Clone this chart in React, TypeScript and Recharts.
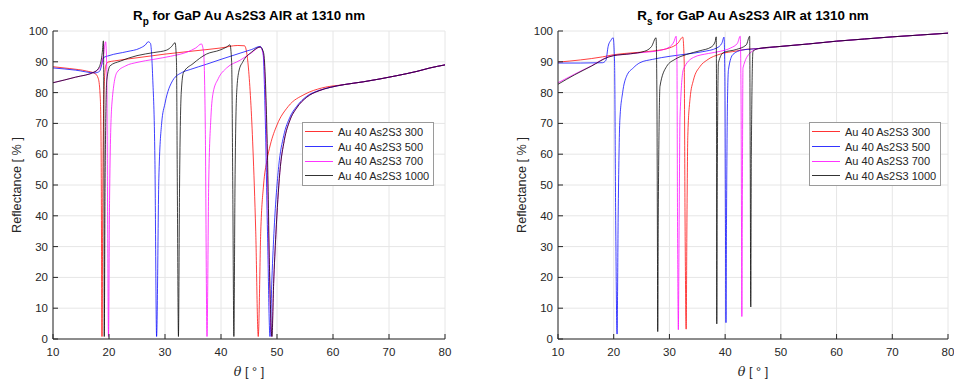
import { LineChart, Line, XAxis, YAxis, CartesianGrid, Legend } from 'recharts';

const thetaTicks = [10, 20, 30, 40, 50, 60, 70, 80];
const reflTicks = [0, 10, 20, 30, 40, 50, 60, 70, 80, 90, 100];
const seriesNames = ['Au 40 As2S3 300', 'Au 40 As2S3 500', 'Au 40 As2S3 700', 'Au 40 As2S3 1000'];
const seriesColors = ['#ff0000', '#0000ff', '#ff00ff', '#000000'];

// Rp curves: [theta, reflectance %]
const rpFar = [[62, 82.6], [65.4, 83.5], [71.4, 85.5], [75, 86.9], [77.3, 88], [80, 89]];

const rp300 = [
  [10, 88.4], [13, 87.8], [16, 87], [17.5, 86.2], [18.1, 84.5], [18.45, 78], [18.6, 60], [18.75, 0.8],
  [18.9, 50], [19.1, 80], [19.4, 88.5], [19.8, 89.9], [21, 90.3], [25, 91.3], [30, 92.5], [35, 93.5],
  [40, 94.5], [43, 95.3], [44.2, 95.2], [44.9, 88], [45.7, 62], [46.2, 35], [46.65, 0.8], [47.1, 35],
  [47.6, 50], [48.2, 58], [48.8, 63], [50, 69.5], [52, 75.5], [55, 79.5], [58, 81.5], ...rpFar,
];
const rp500 = [
  [10, 88], [14, 87.3], [17.5, 86.4], [18.3, 86.9], [18.7, 89], [19, 91.3], [20, 92], [23.2, 93.3],
  [25.5, 94.4], [26.5, 95.5], [27, 96.5], [27.4, 96], [27.8, 85], [28.2, 58], [28.5, 0.8], [28.9, 52],
  [29.4, 70], [30, 76.5], [31.4, 84], [33, 86.5], [34.5, 87.5], [37.4, 89.2], [40, 90.8], [43.4, 92.8],
  [45.5, 94], [47, 95], [47.5, 93], [47.9, 72], [48.3, 35], [48.75, 0.8], [49.1, 20], [49.5, 36],
  [50.3, 56], [51.2, 66], [52.3, 72], [53.5, 75.5], [55.3, 78.8], [57.5, 80.7], [59.5, 81.7], ...rpFar,
];
const rp700 = [
  [10, 83.2], [14, 85], [17.5, 86.8], [18.5, 88.5], [19, 92], [19.4, 96.5], [19.6, 88], [19.75, 40],
  [19.9, 0.8], [20.1, 45], [20.5, 76], [21.4, 86.5], [23, 88.7], [25, 89.8], [28, 90.8], [31, 91.8],
  [34, 93.2], [35.5, 94.5], [36.5, 95.8], [36.9, 93], [37.2, 68], [37.5, 0.8], [37.8, 50], [38.2, 72],
  [38.6, 80], [39.5, 84.5], [41, 88], [43.4, 90.5], [45.5, 93], [47, 94.8], [47.6, 92], [48.2, 62],
  [48.6, 25], [49.05, 0.8], [49.4, 18], [49.8, 34], [50.5, 54], [51.3, 64.5], [52.3, 71], [53.5, 75],
  [55.3, 78.5], [57.5, 80.6], [59.5, 81.7], ...rpFar,
];
const rp1000 = [
  [10, 83.2], [14, 85], [17.5, 86.8], [18.3, 88.5], [18.8, 93], [19, 96.8], [19.1, 60], [19.15, 0.8],
  [19.3, 50], [19.6, 84], [20.2, 88.7], [22, 90.2], [25, 92], [28, 93], [30.3, 93.8], [31.2, 95],
  [31.8, 96.2], [32.05, 90], [32.2, 50], [32.4, 0.8], [32.6, 50], [32.9, 80], [33.3, 86.5], [35, 89.4],
  [37.4, 92.5], [39.8, 93.8], [41, 94.8], [41.6, 95.5], [41.9, 90], [42.1, 50], [42.3, 0.8], [42.5, 50],
  [42.8, 80], [43.2, 87], [43.9, 90], [45.5, 93.2], [47, 94.8], [47.6, 93], [48.3, 60], [48.7, 20],
  [49.1, 0.8], [49.4, 18], [49.8, 34], [50.5, 54], [51.3, 64.5], [52.3, 71], [53.5, 75], [55.3, 78.5],
  [57.5, 80.6], [59.5, 81.7], ...rpFar,
];

// Rs curves
const rsFar = [[46, 94.3], [50, 95], [55, 95.8], [60, 96.7], [65, 97.4], [70, 98.1], [75, 98.7], [80, 99.3]];

const rs300 = [
  [10, 89.9], [14, 90.6], [18, 91.6], [20, 92.3], [24, 93], [27, 93.5], [30, 94.5], [31.5, 96],
  [32.4, 98], [32.65, 90], [32.8, 40], [33, 3.2], [33.15, 40], [33.3, 66], [33.7, 78], [34.3, 84],
  [35.5, 88.5], [36.7, 90.5], [39.1, 92.5], [42, 93.5], [44, 94.1], ...rsFar,
];
const rs500 = [
  [10, 89.6], [14, 89.6], [18, 89.7], [18.6, 90.5], [19, 95], [19.5, 97], [19.9, 97.8], [20.15, 90],
  [20.35, 40], [20.6, 1.6], [20.8, 40], [21.1, 71], [21.6, 80], [22.3, 85.3], [23.5, 88], [24.7, 89.7],
  [27, 90.8], [30.1, 91.8], [33, 92.5], [36, 93.3], [38.5, 94.5], [39.4, 96], [39.8, 98], [39.95, 85],
  [40.05, 40], [40.15, 5.3], [40.25, 40], [40.4, 75], [40.6, 87.5], [41.4, 92.4], [43, 93.8], [44.5, 94.1],
  ...rsFar,
];
const rs700 = [
  [10, 83.2], [13, 86], [16, 88.7], [19.3, 91.8], [22, 92.4], [25, 93], [28, 93.6], [30, 94.8],
  [30.8, 96.5], [31.2, 98.3], [31.35, 90], [31.45, 40], [31.6, 3], [31.75, 40], [31.9, 72], [32.5, 87.5],
  [34.3, 91.4], [37, 92.7], [39.1, 93.4], [41, 94.5], [42.2, 96], [42.7, 98.3], [42.85, 80], [42.95, 30],
  [43, 7.3], [43.08, 40], [43.2, 88], [44.5, 92.9], ...rsFar,
];
const rs1000 = [
  [10, 82.7], [13, 85.8], [16, 88.6], [19, 91.5], [20, 92], [23, 92.6], [25.5, 93.4], [26.8, 95],
  [27.6, 97.8], [27.75, 80], [27.85, 30], [27.9, 2.4], [28, 40], [28.15, 70], [28.3, 82], [29.5, 88.5],
  [31, 90.8], [33.1, 92.4], [35.5, 93.6], [37.5, 94.8], [38.2, 96.5], [38.4, 98.1], [38.45, 80], [38.5, 4.9],
  [38.58, 50], [38.8, 89.7], [39.7, 93], [42, 94], [43.8, 95.5], [44.4, 98.3], [44.5, 60], [44.6, 10.4],
  [44.7, 60], [45, 93.4], ...rsFar,
];

const toPts = (arr: number[][]) => arr.map(([t, r]) => ({ t, r }));

const FONT = '"Liberation Sans", Arial, Helvetica, sans-serif';
const AX = '#262626';

const LegendBox = () => (
  <div
    style={{
      border: '1px solid #9a9a9a',
      background: '#fff',
      padding: '1.5px 4px 1.7px 2px',
      fontFamily: FONT,
      fontSize: 11,
      color: AX,
      whiteSpace: 'nowrap',
    }}
  >
    {seriesNames.map((n, i) => (
      <div key={n} style={{ display: 'flex', alignItems: 'center', height: 14.7 }}>
        <svg width={28} height={3} style={{ marginRight: 5 }}>
          <line x1={0} y1={1.5} x2={28} y2={1.5} stroke={seriesColors[i]} strokeWidth={0.8} />
        </svg>
        {n}
      </div>
    ))}
  </div>
);

interface PanelProps {
  sub: string;
  series: number[][][];
  marginLeft: number;
  marginRight: number;
  legendLeft: number;
}

const Panel = ({ sub, series, marginLeft, marginRight, legendLeft }: PanelProps) => {
  const plotLeft = marginLeft + 40;
  const plotWidth = 477 - plotLeft - marginRight;
  const xLabel = (props: any) => {
    const vb = props.viewBox;
    return (
      <text x={vb.x + vb.width / 2} y={vb.y + 37} textAnchor="middle" fontFamily={FONT} fontSize={12.7} fill={AX}>
        <tspan fontStyle="italic" fontFamily='"DejaVu Serif", serif'>θ</tspan>
        <tspan> [ ° ]</tspan>
      </text>
    );
  };
  const yLabel = (props: any) => {
    const vb = props.viewBox;
    const cx = vb.x + 4;
    const cy = vb.y + vb.height / 2;
    return (
      <text x={cx} y={cy} textAnchor="middle" dominantBaseline="central" transform={`rotate(-90, ${cx}, ${cy})`} fontFamily={FONT} fontSize={12.7} fill={AX}>
        Reflectance [ % ]
      </text>
    );
  };
  const tickStyle = { fontFamily: FONT, fontSize: 11.5, fill: AX };
  return (
    <div style={{ position: 'relative', width: 477, height: 381 }}>
      <LineChart width={477} height={381} margin={{ top: 31, right: marginRight, bottom: 12, left: marginLeft }}>
        <CartesianGrid stroke="#e6e6e6" strokeWidth={1} />
        <XAxis
          dataKey="t"
          type="number"
          domain={[10, 80]}
          ticks={thetaTicks}
          allowDataOverflow
          height={30}
          stroke={AX}
          tick={tickStyle}
          tickSize={-5}
          tickMargin={14}
          label={xLabel}
        />
        <XAxis
          xAxisId="top"
          orientation="top"
          type="number"
          domain={[10, 80]}
          ticks={thetaTicks}
          height={0}
          stroke={AX}
          tick={false}
          tickSize={-5}
        />
        <YAxis
          type="number"
          domain={[0, 100]}
          ticks={reflTicks}
          allowDataOverflow
          width={40}
          stroke={AX}
          tick={tickStyle}
          tickSize={-5}
          tickMargin={10}
          label={yLabel}
        />
        <YAxis
          yAxisId="right"
          orientation="right"
          type="number"
          domain={[0, 100]}
          ticks={reflTicks}
          width={0}
          stroke={AX}
          tick={false}
          tickSize={-5}
        />
        {series.map((s, i) => (
          <Line
            key={seriesNames[i]}
            data={toPts(s)}
            dataKey="r"
            name={seriesNames[i]}
            type="monotone"
            stroke={seriesColors[i]}
            strokeWidth={0.75}
            dot={false}
            activeDot={false}
            isAnimationActive={false}
          />
        ))}
        <Legend
          layout="vertical"
          align="center"
          verticalAlign="middle"
          content={<LegendBox />}
          wrapperStyle={{ left: legendLeft, top: 122, width: 'auto' }}
        />
      </LineChart>
      <svg width={477} height={31} style={{ position: 'absolute', left: 0, top: 0 }}>
        <text x={plotLeft + plotWidth / 2} y={20} textAnchor="middle" fontFamily={FONT} fontSize={13.4} fontWeight="bold" fill="#000">
          <tspan>R</tspan>
          <tspan dy={4.5} fontSize={10}>{sub}</tspan>
          <tspan dy={-4.5}> for GaP Au As2S3 AIR at 1310 nm</tspan>
        </text>
      </svg>
    </div>
  );
};

export default function App() {
  return (
    <div style={{ position: 'absolute', left: 0, top: 0, width: 954, height: 381, background: '#fff', display: 'flex' }}>
      <Panel sub="p" series={[rp300, rp500, rp700, rp1000]} marginLeft={13} marginRight={32} legendLeft={302} />
      <Panel sub="s" series={[rs300, rs500, rs700, rs1000]} marginLeft={41} marginRight={6} legendLeft={332} />
    </div>
  );
}
